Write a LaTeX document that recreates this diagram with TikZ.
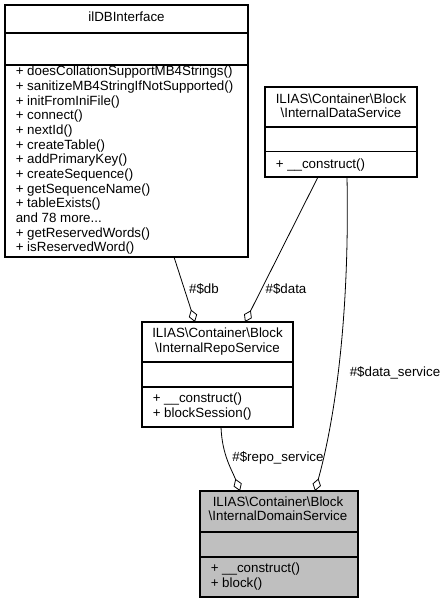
\documentclass[tikz,border=0pt]{standalone}
\usepackage{fontspec}
\setmainfont{Liberation Sans}
\usetikzlibrary{arrows.meta,fit,calc}
\definecolor{dgray}{HTML}{BFBFBF}
\begin{document}
\begin{tikzpicture}[x=0.75pt,y=-0.75pt,
  sec/.style={draw=black,line width=0.8pt,inner sep=0pt,outer sep=0pt,rectangle},
  ttl/.style={anchor=north,inner sep=0pt,align=center,font=\fontsize{10}{11}\selectfont},
  mth/.style={anchor=north west,inner sep=0pt,align=left,font=\fontsize{10}{11}\selectfont},
  lbl/.style={inner sep=0pt,font=\fontsize{10}{11}\selectfont},
  agg/.style={draw=black,line width=0.6pt,-{Diamond[open,length=9.75pt,width=6.5pt,line width=0.6pt]}}
]
\useasboundingbox (0,0) rectangle (446,603);

% ilDBInterface
\node[sec,fit={(5,5)(248,33)}] (dbt) {};
\node[sec,fit={(5,33)(248,65)}] (dba) {};
\node[sec,fit={(5,65)(248,257)}] (dbm) {};
\node[ttl] (dbtx) at (126.5,11.2) {\strut ilDBInterface};
\node[mth] (dbmx) at (15.5,65.2) {\strut + doesCollationSupportMB4Strings()\\
+ sanitizeMB4StringIfNotSupported()\\
+ initFromIniFile()\\
+ connect()\\
+ nextId()\\
+ createTable()\\
+ addPrimaryKey()\\
+ createSequence()\\
+ getSequenceName()\\
+ tableExists()\\
and 78 more...\\
+ getReservedWords()\\
+ isReservedWord()};

% InternalDataService
\node[sec,fit={(265,87)(417,127)}] (dst) {};
\node[sec,fit={(265,127)(417,151.5)}] (dsa) {};
\node[sec,fit={(265,151.5)(417,177)}] (dsm) {};
\node[ttl] (dstx) at (341,92.7) {\strut ILIAS\textbackslash Container\textbackslash Block\\\textbackslash InternalDataService};
\node[mth] (dsmx) at (275.5,157.7) {\strut + \_\_construct()};

% InternalRepoService
\node[sec,fit={(142,322)(293,362)}] (rt) {};
\node[sec,fit={(142,362)(293,387)}] (ra) {};
\node[sec,fit={(142,387)(293,427)}] (rm) {};
\node[ttl] (rtx) at (217.5,327.2) {\strut ILIAS\textbackslash Container\textbackslash Block\\\textbackslash InternalRepoService};
\node[mth] (rmx) at (152.5,392.2) {\strut + \_\_construct()\\+ blockSession()};

% InternalDomainService
\node[sec,fill=dgray,fit={(200,491)(358,532)}] (dot) {};
\node[sec,fill=dgray,fit={(200,532)(358,557)}] (doa) {};
\node[sec,fill=dgray,fit={(200,557)(358,597)}] (dom) {};
\node[ttl] (dotx) at (278,495.7) {\strut ILIAS\textbackslash Container\textbackslash Block\\\textbackslash InternalDomainService};
\node[mth] (domx) at (210.5,562.2) {\strut + \_\_construct()\\+ block()};

% connectors
\draw[agg] ($(dbm.south west)+(169,0)$) -- ($(rt.north west)+(53,0)$);
\draw[agg] ($(dsm.south west)+(53,0)$) -- ($(rt.north west)+(103,0)$);
\draw[agg] ($(dsm.south west)+(82,0)$) .. controls (350,330) and (332,430) .. ($(dot.north west)+(115,0)$);
\draw[agg] ($(rm.south west)+(79,0)$) .. controls (222,455) and (232,470) .. ($(dot.north west)+(40,0)$);

% labels
\node[lbl] (ldb) at (204,289) {\#\$db};
\node[lbl] (ldata) at (286,289) {\#\$data};
\node[lbl] (lds) at (395,373) {\#\$data\_service};
\node[lbl] (lrs) at (278,458) {\#\$repo\_service};
\end{tikzpicture}
\end{document}
